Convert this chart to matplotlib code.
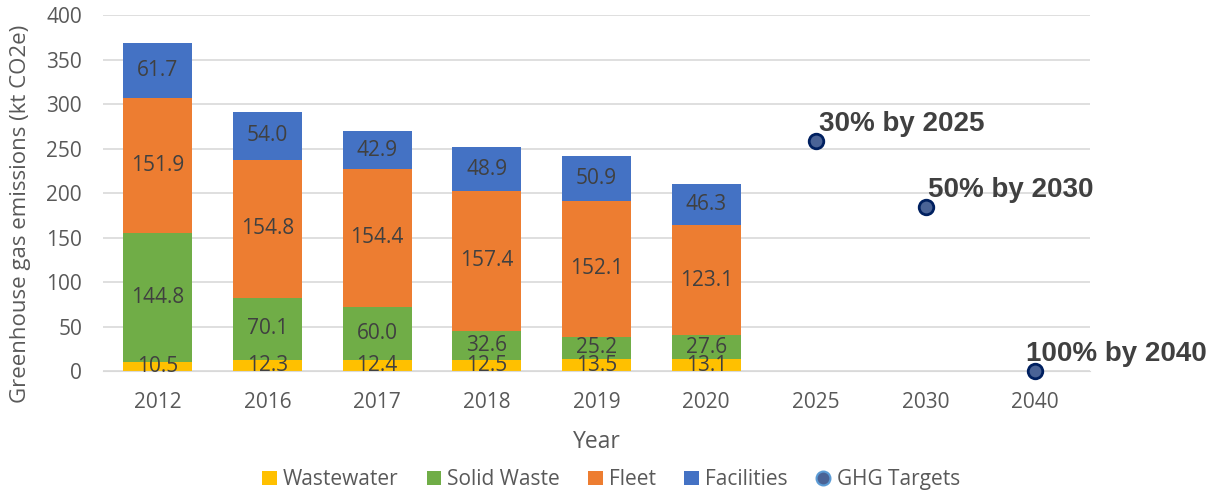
import matplotlib
matplotlib.use("Agg")
import matplotlib.pyplot as plt
import numpy as np
from matplotlib.lines import Line2D
from matplotlib.patches import Patch

categories = ["2012", "2016", "2017", "2018", "2019", "2020", "2025", "2030", "2040"]
wastewater = [10.5, 12.3, 12.4, 12.5, 13.5, 13.1]
solid_waste = [144.8, 70.1, 60.0, 32.6, 25.2, 27.6]
fleet = [151.9, 154.8, 154.4, 157.4, 152.1, 123.1]
facilities = [61.7, 54.0, 42.9, 48.9, 50.9, 46.3]
target_cats = ["2025", "2030", "2040"]
target_values = [258.3, 184.5, 0.0]
target_labels = ["30% by 2025", "50% by 2030", "100% by 2040"]

plt.rcParams['font.family'] = ['Open Sans', 'DejaVu Sans']
fig = plt.figure(figsize=(12.17, 4.97), dpi=100)
ax = fig.add_axes([0.0846, 0.2535, 0.8111, 0.7163])

x = np.arange(len(categories))
n = len(wastewater)
xb = x[:n]
w = 0.63
colors = ["#FFC000", "#70AD47", "#ED7D31", "#4472C4"]
series = [wastewater, solid_waste, fleet, facilities]
names = ["Wastewater", "Solid Waste", "Fleet", "Facilities"]
bottom = np.zeros(n)
for vals, c in zip(series, colors):
    vals = np.array(vals)
    ax.bar(xb, vals, w, bottom=bottom, color=c, zorder=2)
    for xi, b, v in zip(xb, bottom, vals):
        ax.text(xi, b + v / 2, f"{v:.1f}", ha="center", va="center",
                fontsize=15, color="#404040", zorder=4)
    bottom += vals

xt = [categories.index(c) for c in target_cats]
ax.scatter(xt, target_values, s=110, facecolor="#4A6396", edgecolor="#002060",
           linewidth=2, zorder=5, clip_on=False)
offsets = [(2, 3), (2, 3), (-7, 3)]
for xi, v, lab, off in zip(xt, target_values, target_labels, offsets):
    ax.annotate(lab, (xi, v), xytext=off, textcoords="offset points",
                ha="left", va="bottom", fontsize=20, fontweight="bold",
                color="#404040", family=["Liberation Sans", "DejaVu Sans"], zorder=6,
                annotation_clip=False)

ax.set_xlim(-0.5, len(categories) - 0.5)
ax.set_ylim(0, 400)
ax.set_yticks(range(0, 401, 50))
ax.set_xticks(x)
ax.set_xticklabels(categories)
ax.yaxis.grid(True, color="#D9D9D9", linewidth=1.2, zorder=0)
ax.set_axisbelow(True)
for s in ax.spines.values():
    s.set_visible(False)
ax.spines["bottom"].set_visible(True)
ax.spines["bottom"].set_color("#D9D9D9")
ax.tick_params(axis="both", length=0, labelsize=15, labelcolor="#595959")
ax.tick_params(axis="x", pad=15)
ax.tick_params(axis="y", pad=15)
ax.set_xlabel("Year", fontsize=16.5, color="#595959", labelpad=12)
ax.set_ylabel("Greenhouse gas emissions (kt CO2e)", fontsize=16, color="#595959")
ax.yaxis.set_label_coords(-0.073, 0.44)

handles = [Patch(facecolor=c, label=nm) for c, nm in zip(colors, names)]
handles.append(Line2D([0], [0], marker="o", linestyle="none", markersize=10,
                      markerfacecolor="#4A6396", markeredgecolor="#5B9BD5",
                      markeredgewidth=1.5, label="GHG Targets"))
fig.legend(handles=handles, loc="center", bbox_to_anchor=(0.502, 0.035), ncol=5,
           frameon=False, fontsize=15, labelcolor="#595959", handlelength=0.7,
           handleheight=0.7, handletextpad=0.3, columnspacing=1.35)

fig.savefig("out.png", dpi=100)
